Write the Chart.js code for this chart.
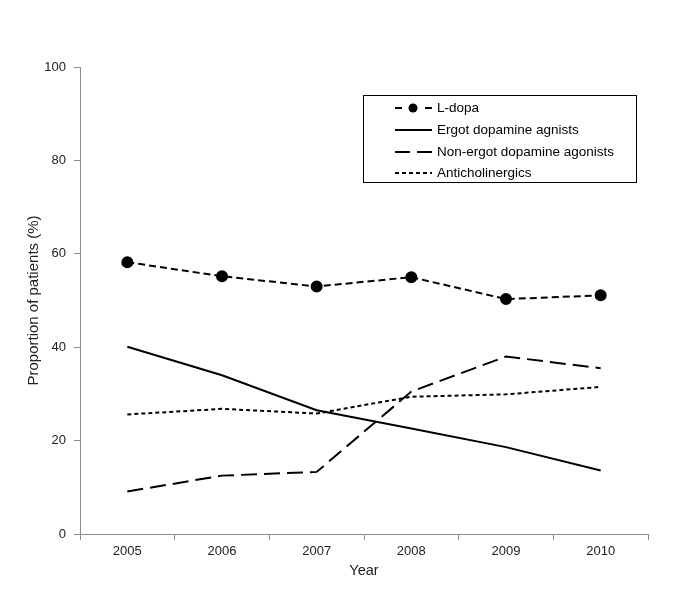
<!DOCTYPE html>
<html>
<head>
<meta charset="utf-8">
<script src="https://cdn.jsdelivr.net/npm/chart.js@4.4.1/dist/chart.umd.min.js"></script>
<style>
  html, body { margin: 0; padding: 0; background: #ffffff; }
  #wrap { width: 693px; height: 608px; position: relative; }
</style>
</head>
<body>
<div id="wrap"><canvas id="c" width="693" height="608"></canvas></div>
<script>
const years = ['2005', '2006', '2007', '2008', '2009', '2010'];
const lDopa = [58.2, 55.2, 53.0, 55.0, 50.3, 51.1];
const ergot = [40.1, 34.0, 26.5, 22.6, 18.6, 13.6];
const nonErgot = [9.1, 12.5, 13.3, 30.5, 38.0, 35.5];
const anticholinergics = [25.6, 26.8, 25.8, 29.4, 29.9, 31.5];
const seriesNames = ['L-dopa', 'Ergot dopamine agnists', 'Non-ergot dopamine agonists', 'Anticholinergics'];
const yTicks = [0, 20, 40, 60, 80, 100];

const FONT = "'Liberation Sans', Arial, sans-serif";
const AXIS = '#8c8c8c';

const legendPlugin = {
  id: 'boxLegend',
  afterDraw(chart) {
    const ctx = chart.ctx;
    const x0 = 363.5, y0 = 95.5, w = 273, h = 87;
    ctx.save();
    ctx.strokeStyle = '#000';
    ctx.lineWidth = 1;
    ctx.setLineDash([]);
    ctx.strokeRect(x0, y0, w, h);
    const rows = [108, 130, 152, 173];
    const sx0 = 395, sx1 = 432, tx = 437;
    chart.data.datasets.forEach((ds, i) => {
      const y = rows[i];
      ctx.strokeStyle = ds.borderColor;
      ctx.lineWidth = ds.borderWidth;
      ctx.setLineDash(ds.legendDash || ds.borderDash || []);
      ctx.beginPath();
      ctx.moveTo(sx0, y);
      ctx.lineTo(sx1, y);
      ctx.stroke();
      if (ds.pointRadius > 0) {
        ctx.setLineDash([]);
        ctx.fillStyle = ds.pointBackgroundColor;
        ctx.beginPath();
        ctx.arc((sx0 + sx1) / 2 - 0.5, y, 4.5, 0, Math.PI * 2);
        ctx.fill();
      }
      ctx.setLineDash([]);
      ctx.fillStyle = '#000';
      ctx.font = '13.5px ' + FONT;
      ctx.textBaseline = 'middle';
      ctx.textAlign = 'left';
      ctx.fillText(ds.label, tx, y);
    });
    ctx.restore();
  }
};

new Chart(document.getElementById('c'), {
  type: 'line',
  data: {
    labels: years,
    datasets: [
      { label: seriesNames[0], data: lDopa, borderColor: '#000', borderWidth: 2, borderDash: [7, 4], legendDash: [7, 23],
        pointRadius: 5, pointBackgroundColor: '#000', pointBorderColor: '#000', pointHoverRadius: 5, tension: 0, fill: false },
      { label: seriesNames[1], data: ergot, borderColor: '#000', borderWidth: 2, borderDash: [],
        pointRadius: 0, tension: 0, fill: false },
      { label: seriesNames[2], data: nonErgot, borderColor: '#000', borderWidth: 2, borderDash: [16, 7], legendDash: [15, 7],
        pointRadius: 0, tension: 0, fill: false },
      { label: seriesNames[3], data: anticholinergics, borderColor: '#000', borderWidth: 2, borderDash: [4, 3],
        pointRadius: 0, tension: 0, fill: false }
    ]
  },
  options: {
    responsive: false,
    animation: false,
    layout: { padding: { left: 21, right: 45, top: 67, bottom: 24 } },
    plugins: { legend: { display: false }, tooltip: { enabled: false } },
    scales: {
      x: {
        type: 'category',
        offset: true,
        grid: { display: true, offset: true, drawOnChartArea: false, drawTicks: true, tickLength: 6, color: AXIS, lineWidth: 1 },
        border: { display: true, color: AXIS, width: 1 },
        ticks: { color: '#222', font: { family: FONT, size: 13 }, padding: 4, maxRotation: 0 },
        title: { display: true, text: 'Year', color: '#222', font: { family: FONT, size: 14.5 }, padding: { top: 4, bottom: 4 } },
        afterFit(scale) { scale.height = 50; }
      },
      y: {
        min: 0, max: 100,
        afterBuildTicks(scale) { scale.ticks = yTicks.map(v => ({ value: v })); },
        grid: { display: true, drawOnChartArea: false, drawTicks: true, tickLength: 6, color: AXIS, lineWidth: 1 },
        border: { display: true, color: AXIS, width: 1 },
        ticks: { color: '#222', font: { family: FONT, size: 13 }, padding: 8 },
        title: { display: true, text: 'Proportion of patients (%)', color: '#222', font: { family: FONT, size: 15 }, padding: { top: 4, bottom: 4 } },
        afterFit(scale) { scale.width = 59; }
      }
    }
  },
  plugins: [legendPlugin]
});
</script>
</body>
</html>
